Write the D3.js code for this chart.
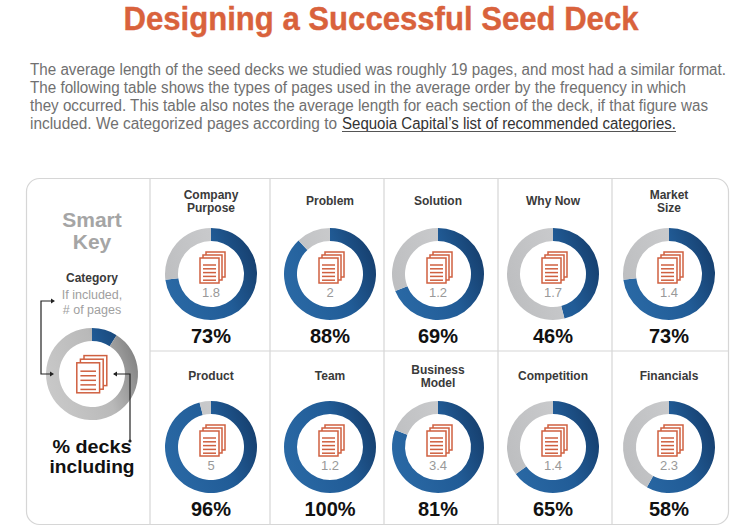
<!DOCTYPE html>
<html><head><meta charset="utf-8">
<script src="https://cdn.jsdelivr.net/npm/d3@7"></script>
<style>html,body{margin:0;padding:0;background:#fff}svg{display:block}text{font-family:"Liberation Sans",Arial,sans-serif}</style>
</head><body><svg id="c" width="750" height="530"></svg>
<script>
const categories=[["Company","Purpose"],["Problem"],["Solution"],["Why Now"],["Market","Size"],["Product"],["Team"],["Business","Model"],["Competition"],["Financials"]];
const deckShare=[73,88,69,46,73,96,100,81,65,58];
const pageCounts=["1.8","2","1.2","1.7","1.4","5","1.2","3.4","1.4","2.3"];
const bodyLines=[
 ["The average length of the seed decks we studied was roughly 19 pages, and most had a similar format.",696],
 ["The following table shows the types of pages used in the average order by the frequency in which",656],
 ["they occurred. This table also notes the average length for each section of the deck, if that figure was",678],
 ["included. We categorized pages according to",307]];
const linkText="Sequoia Capital\u2019s list of recommended categories.";
const keySegments=[{v:9,c:"url(#gBlue)"},{v:91,c:"url(#gKey)"}];

const svg=d3.select("#c");
const orange="#d9623c",iconLine="#cf6040",line="#d6d6d6";

const defs=svg.append("defs");
function grad(id,stops){
 const g=defs.append("linearGradient").attr("id",id).attr("gradientUnits","userSpaceOnUse")
  .attr("x1",-46).attr("x2",46).attr("y1",15).attr("y2",-15);
 stops.forEach(s=>g.append("stop").attr("offset",s[0]).attr("stop-color",s[1]));
}
grad("gBlue",[[0,"#2a69a5"],[0.6,"#215c97"],[1,"#163f6e"]]);
grad("gGray",[[0,"#bdbec0"],[1,"#cfd0d2"]]);
grad("gKey",[[0,"#c9c9c9"],[0.6,"#b9b9b9"],[1,"#828282"]]);

svg.append("text").attr("x",381).attr("y",30).attr("text-anchor","middle")
 .attr("font-size",34).attr("font-weight","700").attr("fill",orange).attr("stroke",orange).attr("stroke-width",0.4)
 .attr("textLength",515).attr("lengthAdjust","spacingAndGlyphs").text("Designing a Successful Seed Deck");

bodyLines.forEach((l,i)=>{
 svg.append("text").attr("x",30).attr("y",75+i*18.1).attr("font-size",15.6).attr("fill","#707070")
  .attr("textLength",l[1]).attr("lengthAdjust","spacingAndGlyphs").text(l[0]);
});
svg.append("text").attr("x",342).attr("y",129.3).attr("font-size",15.6).attr("fill","#333")
 .attr("textLength",334).attr("lengthAdjust","spacingAndGlyphs").text(linkText);
svg.append("line").attr("x1",342).attr("x2",676).attr("y1",131.5).attr("y2",131.5).attr("stroke","#555").attr("stroke-width",1.2);

svg.append("rect").attr("x",26.5).attr("y",178.5).attr("width",702).attr("height",346).attr("rx",13)
 .attr("fill","#fff").attr("stroke",line).attr("stroke-width",1.2);
[150,270,384,498,612].forEach(x=>svg.append("line").attr("x1",x).attr("x2",x).attr("y1",179).attr("y2",524).attr("stroke",line).attr("stroke-width",1.2));
svg.append("line").attr("x1",150).attr("x2",728).attr("y1",351).attr("y2",351).attr("stroke",line).attr("stroke-width",1.2);

const arc=d3.arc().innerRadius(33).outerRadius(46);
const pie=d3.pie().sort(null).value(d=>d.v);

function pagesIcon(g,s){
 const i=g.append("g").attr("transform",`scale(${s})`).attr("fill","#fff").attr("stroke",iconLine).attr("stroke-width",1.5/s);
 [[-5,-22],[-8,-19],[-11,-16]].forEach(o=>{
  i.append("rect").attr("x",o[0]).attr("y",o[1]).attr("width",19).attr("height",25);
 });
 d3.range(5).forEach(k=>i.append("line").attr("x1",-8).attr("x2",5).attr("y1",-9+k*3.8).attr("y2",-9+k*3.8).attr("stroke-width",1.5/s));
}

const xs=[211,330,438,553,669],ys=[274,447];
categories.forEach((cat,i)=>{
 const r=i<5?0:1,cx=xs[i%5],cy=ys[r],pct=deckShare[i];
 const g=svg.append("g").attr("transform",`translate(${cx},${cy})`);
 g.selectAll("path").data(pie([{v:pct,c:"url(#gBlue)"},{v:100-pct,c:"url(#gGray)"}])).join("path").attr("d",arc).attr("fill",d=>d.data.c);
 pagesIcon(g.append("g"),1);
 g.append("text").attr("y",23).attr("text-anchor","middle").attr("font-size",13).attr("fill","#999").text(pageCounts[i]);
 g.append("text").attr("y",69).attr("text-anchor","middle").attr("font-size",20).attr("font-weight","700").attr("fill","#111").text(pct+"%");
 const ty=cat.length==2?(r==0?199:374):(r==0?205:380);
 cat.forEach((t,k)=>svg.append("text").attr("x",cx).attr("y",ty+k*12.5).attr("text-anchor","middle").attr("font-size",12).attr("font-weight","700").attr("fill","#3a3a3a").text(t));
});

// Key
const kx=92,ky=374;
svg.append("text").attr("x",kx).attr("y",227).attr("text-anchor","middle").attr("font-size",21).attr("font-weight","700").attr("fill","#a5a5a5").text("Smart");
svg.append("text").attr("x",kx).attr("y",249).attr("text-anchor","middle").attr("font-size",21).attr("font-weight","700").attr("fill","#a5a5a5").text("Key");
svg.append("text").attr("x",kx).attr("y",282).attr("text-anchor","middle").attr("font-size",12).attr("font-weight","700").attr("fill","#3a3a3a").text("Category");
svg.append("text").attr("x",kx).attr("y",299).attr("text-anchor","middle").attr("font-size",12.5).attr("fill","#a0a0a0").text("If included,");
svg.append("text").attr("x",kx).attr("y",314).attr("text-anchor","middle").attr("font-size",12.5).attr("fill","#a0a0a0").text("# of pages");
const kg=svg.append("g").attr("transform",`translate(${kx},${ky})`);
kg.selectAll("path").data(pie(keySegments)).join("path").attr("d",arc).attr("fill",d=>d.data.c);
pagesIcon(kg.append("g").attr("transform","translate(-2,8)"),1.2);
svg.append("text").attr("x",kx).attr("y",452.5).attr("text-anchor","middle").attr("font-size",19).attr("font-weight","700").attr("fill","#111")
 .attr("textLength",79).attr("lengthAdjust","spacingAndGlyphs").text("% decks");
svg.append("text").attr("x",kx).attr("y",472.5).attr("text-anchor","middle").attr("font-size",19).attr("font-weight","700").attr("fill","#111")
 .attr("textLength",85).attr("lengthAdjust","spacingAndGlyphs").text("including");

const ln=svg.append("g").attr("fill","none").attr("stroke","#222").attr("stroke-width",1.2);
ln.append("path").attr("d",`M52,301H41V374H51`);
ln.append("path").attr("d",`M114,374H130V441`);
svg.append("path").attr("d","M55,301l-4,-2.5v5z M54,374l-4,-2.5v5z M113,374l4,-2.5v5z").attr("fill","#222");
svg.append("circle").attr("cx",130).attr("cy",441).attr("r",1.6).attr("fill","#222");
</script></body></html>
